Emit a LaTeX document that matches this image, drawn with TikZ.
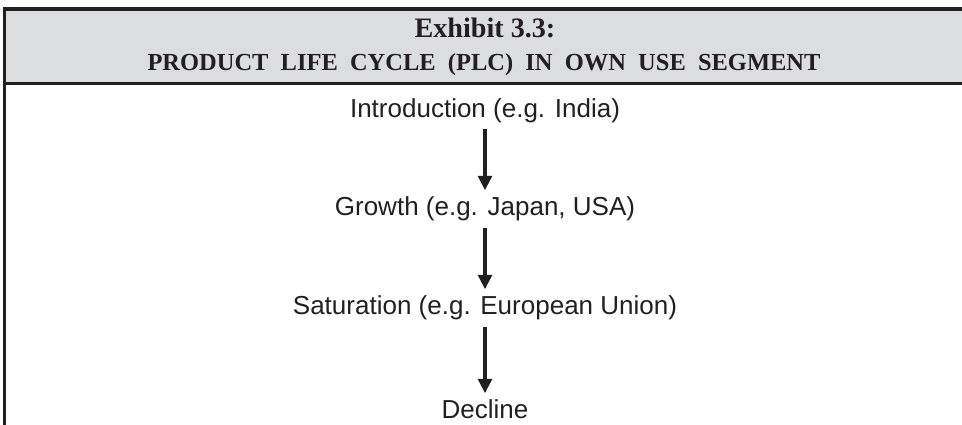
\documentclass[tikz,border=0pt]{standalone}
\usepackage{fontspec}
\usetikzlibrary{arrows.meta}
\newfontfamily\headfont{Liberation Serif}
\newfontfamily\stagefont{Liberation Sans}
\definecolor{headgray}{HTML}{DCDDDF}
\definecolor{rulegray}{HTML}{231F20}
\begin{document}
\begin{tikzpicture}[x=0.025cm,y=-0.025cm,
    stage/.style={inner sep=0pt,anchor=base,text height=13.9pt,text depth=4.6pt,
      font=\stagefont\fontsize{18.5}{22}\selectfont,text=rulegray},
    head/.style={inner sep=0pt,anchor=base,font=\headfont\bfseries\fontsize{17.4}{20}\selectfont,text=rulegray},
    flow/.style={-{Triangle[length=0.36cm,width=0.35cm]},line width=2.2pt,draw=rulegray,
      shorten <=0.12cm,shorten >=0.15cm},
    frame/.style={line width=2.2pt,draw=rulegray}]
        \useasboundingbox (0,0) rectangle (962,425);
        \fill[headgray] (4.5,9) rectangle (962,83.5);
        \coordinate (TL) at (4.5,9);
        \coordinate (TR) at (962,9);
        \coordinate (ML) at (4.5,83.5);
        \coordinate (MR) at (962,83.5);
        \coordinate (BL) at (4.5,425);
        \draw[frame] (TL) -- (TR);
        \draw[frame] (ML) -- (MR);
        \draw[frame,line cap=rect] (TL) -- (BL);

        \node[head,font=\headfont\bfseries\fontsize{20}{24}\selectfont] (T1) at (485,37.5) {Exhibit 3.3:};
        \node[head] (T2) at (484,70.5) {PRODUCT\ \ LIFE\ \ CYCLE\ \ (PLC)\ \ IN\ \ OWN\ \ USE\ \ SEGMENT};

        \node[stage] (A) at (485,117.3) {Introduction (e.g. India)};
        \node[stage] (B) at (485,216) {Growth (e.g. Japan, USA)};
        \node[stage] (C) at (485,315) {Saturation (e.g. European Union)};
        \node[stage] (D) at (485,419) {Decline};
        \draw[flow] (A) -- (B);
        \draw[flow] (B) -- (C);
        \draw[flow] (C) -- (D);
    \end{tikzpicture}
\end{document}
